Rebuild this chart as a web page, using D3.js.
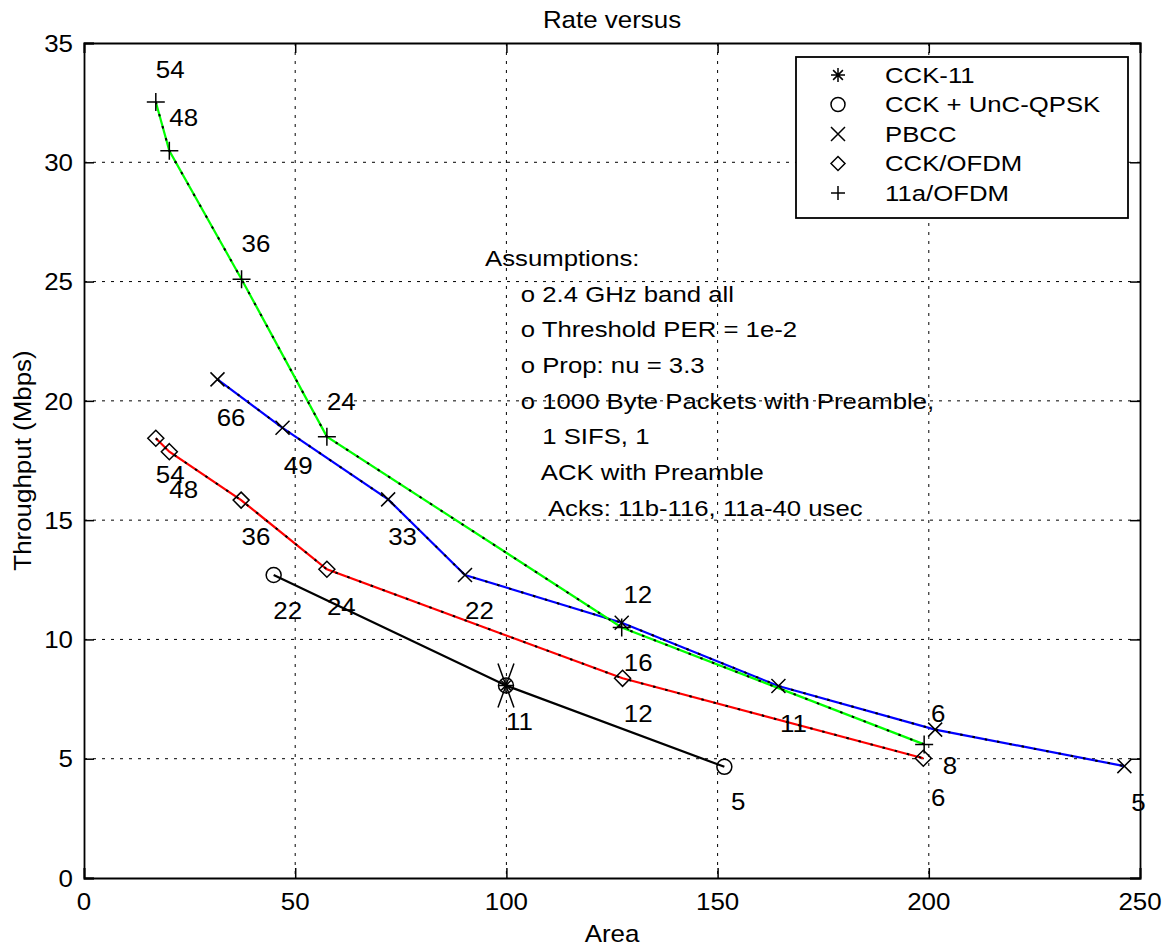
<!DOCTYPE html>
<html>
<head>
<meta charset="utf-8">
<script src="https://cdn.jsdelivr.net/npm/d3@7"></script>
<style>
body { margin: 0; background: #fff; }
text { font-family: "Liberation Sans", Arial, Helvetica, sans-serif; fill: #000; white-space: pre; }
</style>
</head>
<body>
<svg class="chart" width="1167" height="949"></svg>
<script>
// values
var xTicks = [0, 50, 100, 150, 200, 250];
var yTicks = [0, 5, 10, 15, 20, 25, 30, 35];

var cck11Area = [99.9];
var cck11Tput = [8.07];

var uncArea = [44.9, 99.9, 151.6];
var uncTput = [12.7, 8.07, 4.66];

var pbccArea = [31.6, 47.0, 72.0, 90.2, 127.3, 164.4, 201.5, 246.3];
var pbccTput = [20.9, 18.87, 15.87, 12.7, 10.7, 8.05, 6.22, 4.69];

var ofdmArea = [17.0, 20.2, 37.2, 57.5, 127.5, 198.7];
var ofdmTput = [18.43, 17.87, 15.84, 12.94, 8.37, 5.02];

var a11Area = [17.0, 20.2, 37.3, 57.5, 127.3, 198.9];
var a11Tput = [32.53, 30.48, 25.1, 18.5, 10.5, 5.6];

var seriesNames = ['CCK-11', 'CCK + UnC-QPSK', 'PBCC', 'CCK/OFDM', '11a/OFDM'];
var seriesMarkers = ['asterisk', 'circle', 'x', 'diamond', 'plus'];

// rate labels: [area, throughput, text]
var rateLabels = [
    [17.0, 33.9, '54'], [20.2, 31.9, '48'], [37.3, 26.6, '36'], [57.5, 20.0, '24'],
    [31.4, 19.3, '66'], [47.3, 17.3, '49'], [72.0, 14.3, '33'], [90.2, 11.2, '22'],
    [17.0, 16.9, '54'], [20.2, 16.3, '48'], [37.3, 14.3, '36'], [57.5, 11.4, '24'],
    [44.8, 11.2, '22'], [127.7, 11.9, '12'], [127.8, 9.06, '16'], [99.9, 6.55, '11'],
    [127.8, 6.9, '12'], [153.2, 3.2, '5'], [164.8, 6.5, '11'], [200.5, 6.9, '6'],
    [203.3, 4.74, '8'], [200.5, 3.36, '6'], [247.9, 3.17, '5']
];

var assumptions = [
    'Assumptions:',
    '     o 2.4 GHz band all',
    '     o Threshold PER = 1e-2',
    '     o Prop: nu = 3.3',
    '     o 1000 Byte Packets with Preamble,',
    '        1 SIFS, 1',
    '        ACK with Preamble',
    '         Acks: 11b-116, 11a-40 usec'
];

var margin = {left: 84, top: 43, right: 27, bottom: 71};
var width = 1167, height = 949;
var chartWidth = width - margin.left - margin.right;
var chartHeight = height - margin.top - margin.bottom;

var scaleX = d3.scaleLinear().domain([0, 250]).range([0, chartWidth]);
var scaleY = d3.scaleLinear().domain([0, 35]).range([chartHeight, 0]);

var chart = d3.select('.chart');
var panel = chart.append('g')
    .attr('transform', 'translate(' + [margin.left, margin.top] + ')');

// text helper: matlab-ish wide glyphs
function putText(sel, x, y, sx, extra){
    return sel.attr('transform', 'translate(' + [x, y] + ')' + (extra || '') + ' scale(' + sx + ',1)');
}

// grid
panel.append('g').selectAll('line')
    .data(xTicks.slice(1, -1)).enter().append('line')
    .attr('x1', function(d){ return scaleX(d); })
    .attr('x2', function(d){ return scaleX(d); })
    .attr('y1', 0).attr('y2', chartHeight)
    .attr('stroke', '#000').attr('stroke-width', 1).attr('stroke-dasharray', '3,6');

panel.append('g').selectAll('line')
    .data(yTicks.slice(1, -1)).enter().append('line')
    .attr('y1', function(d){ return scaleY(d); })
    .attr('y2', function(d){ return scaleY(d); })
    .attr('x1', 0).attr('x2', chartWidth)
    .attr('stroke', '#000').attr('stroke-width', 1).attr('stroke-dasharray', '3,6');

// axes via d3 axis, ticks turned inward
var axisB = d3.axisBottom(scaleX).tickValues(xTicks).tickSize(-10).tickFormat('');
var axisT = d3.axisTop(scaleX).tickValues(xTicks).tickSize(-10).tickFormat('');
var axisL = d3.axisLeft(scaleY).tickValues(yTicks).tickSize(-10).tickFormat('');
var axisR = d3.axisRight(scaleY).tickValues(yTicks).tickSize(-10).tickFormat('');

[[axisB, [0, chartHeight]], [axisT, [0, 0]], [axisL, [0, 0]], [axisR, [chartWidth, 0]]]
    .forEach(function(a){
        var g = panel.append('g').attr('transform', 'translate(' + a[1] + ')').call(a[0]);
        g.selectAll('path, line').attr('stroke', '#000').attr('stroke-width', 1.5);
        g.select('.domain').attr('stroke-width', 1.8);
    });

// tick labels
panel.append('g').selectAll('text')
    .data(xTicks).enter().append('text')
    .each(function(d){ putText(d3.select(this), scaleX(d), chartHeight + 23, 1.08); })
    .attr('text-anchor', 'middle').attr('dominant-baseline', 'central')
    .style('font-size', '24px')
    .text(function(d){ return d; });

panel.append('g').selectAll('text')
    .data(yTicks).enter().append('text')
    .each(function(d){ putText(d3.select(this), -11, scaleY(d), 1.08); })
    .attr('text-anchor', 'end').attr('dominant-baseline', 'central')
    .style('font-size', '24px')
    .text(function(d){ return d; });

// axis titles
putText(chart.append('text'), margin.left + chartWidth / 2, 933, 1.08)
    .attr('text-anchor', 'middle').attr('dominant-baseline', 'central')
    .style('font-size', '24px').text('Area');
putText(chart.append('text'), 22, margin.top + chartHeight / 2, 1.08, ' rotate(-90)')
    .attr('text-anchor', 'middle').attr('dominant-baseline', 'central')
    .style('font-size', '24px').text('Throughput (Mbps)');
putText(chart.append('text'), margin.left + chartWidth / 2, 19, 1.08)
    .attr('text-anchor', 'middle').attr('dominant-baseline', 'central')
    .style('font-size', '24px').text('Rate versus');

// lines
var line = d3.line()
    .x(function(d){ return scaleX(d[0]); })
    .y(function(d){ return scaleY(d[1]); });

function pts(xs, ys){ return xs.map(function(x, i){ return [x, ys[i]]; }); }

var curves = [
    {pts: pts(uncArea, uncTput), color: '#000', dotted: false},
    {pts: pts(pbccArea, pbccTput), color: '#0000ff', dotted: true},
    {pts: pts(ofdmArea, ofdmTput), color: '#ff0000', dotted: true},
    {pts: pts(a11Area, a11Tput), color: '#00ff00', dotted: true}
];

var lines = panel.append('g');
curves.forEach(function(c){
    lines.append('path').attr('d', line(c.pts))
        .attr('fill', 'none').attr('stroke', c.color).attr('stroke-width', 2.2);
    if(c.dotted){
        // black dots sit on top of the coloured lines in the original
        lines.append('path').attr('d', line(c.pts))
            .attr('fill', 'none').attr('stroke', '#000').attr('stroke-width', 2)
            .attr('stroke-dasharray', '2.5,10');
    }
});

// markers
var markerPath = {
    plus: function(s){ return 'M' + (-s) + ',0H' + s + 'M0,' + (-s) + 'V' + s; },
    x: function(s){ return 'M' + (-s) + ',' + (-s) + 'L' + s + ',' + s + 'M' + s + ',' + (-s) + 'L' + (-s) + ',' + s; },
    diamond: function(s){ return 'M0,' + (-s) + 'L' + s + ',0L0,' + s + 'L' + (-s) + ',0Z'; },
    asterisk: function(s){ var k = s * 0.7; return markerPath.plus(s) + markerPath.x(k); }
};

function drawMarker(g, type, x, y, s){
    if(type === 'circle'){
        g.append('circle').attr('cx', x).attr('cy', y).attr('r', s)
            .attr('fill', 'none').attr('stroke', '#000').attr('stroke-width', 1.5);
    } else {
        g.append('path').attr('transform', 'translate(' + [x, y] + ')')
            .attr('d', markerPath[type](s))
            .attr('fill', 'none').attr('stroke', '#000').attr('stroke-width', 1.5);
    }
}

var marks = panel.append('g');
pts(a11Area, a11Tput).forEach(function(p){ drawMarker(marks, 'plus', scaleX(p[0]), scaleY(p[1]), 9); });
pts(pbccArea, pbccTput).forEach(function(p){ drawMarker(marks, 'x', scaleX(p[0]), scaleY(p[1]), 7); });
pts(ofdmArea, ofdmTput).forEach(function(p){ drawMarker(marks, 'diamond', scaleX(p[0]), scaleY(p[1]), 8); });
pts(uncArea, uncTput).forEach(function(p){ drawMarker(marks, 'circle', scaleX(p[0]), scaleY(p[1]), 7.5); });
pts(cck11Area, cck11Tput).forEach(function(p){
    var cx = scaleX(p[0]), cy = scaleY(p[1]);
    drawMarker(marks, 'asterisk', cx, cy, 7);
    // the tall stretched cross drawn round that point
    marks.append('path').attr('transform', 'translate(' + [cx, cy] + ')')
        .attr('d', 'M-8,-22L8,22M8,-22L-8,22')
        .attr('fill', 'none').attr('stroke', '#000').attr('stroke-width', 1.5);
});

// rate labels
panel.append('g').selectAll('text')
    .data(rateLabels).enter().append('text')
    .each(function(d){ putText(d3.select(this), scaleX(d[0]), scaleY(d[1]), 1.08); })
    .attr('dominant-baseline', 'central')
    .style('font-size', '24px')
    .text(function(d){ return d[2]; });

// assumptions block
chart.append('g').selectAll('text')
    .data(assumptions).enter().append('text')
    .each(function(d, i){ putText(d3.select(this), 485, 258 + i * 35.7, 1.17); })
    .attr('dominant-baseline', 'central')
    .attr('xml:space', 'preserve')
    .style('font-size', '22px')
    .text(function(d){ return d; });

// legend
var legend = chart.append('g');
legend.append('rect')
    .attr('x', 796).attr('y', 57).attr('width', 332).attr('height', 161)
    .attr('fill', '#fff').attr('stroke', '#000').attr('stroke-width', 1.8);

seriesNames.forEach(function(name, i){
    var y = 75 + i * 29.5;
    drawMarker(legend, seriesMarkers[i], 838, y, 7);
    putText(legend.append('text'), 885, y, 1.17)
        .attr('dominant-baseline', 'central')
        .style('font-size', '22px')
        .text(name);
});
</script>
</body>
</html>
